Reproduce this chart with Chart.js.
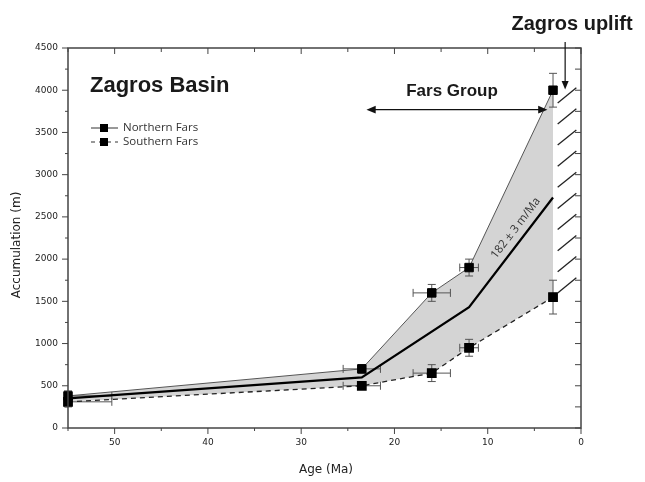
<!DOCTYPE html>
<html>
<head>
<meta charset="utf-8">
<script src="https://cdn.jsdelivr.net/npm/chart.js@4/dist/chart.umd.min.js"></script>
<style>
  body { margin: 0; background: #fff; }
  #wrap { width: 645px; height: 482px; }
</style>
</head>
<body>
<div id="wrap"><canvas id="myChart" width="645" height="482"></canvas></div>
<script>
// data
var ages = [55, 23.5, 16, 12, 3];
var northern = [380, 700, 1600, 1900, 4000];
var southern = [310, 500, 650, 950, 1550];
var ageErr = [4.7, 2, 2, 1, 0];
var northErr = [60, 50, 100, 100, 200];
var southErr = [60, 40, 100, 100, 200];
var meanAges = [55, 23.5, 12, 3];
var meanAcc = [350, 600, 1430, 2730];
var hatchBase = [1600, 1850, 2100, 2350, 2600, 2850, 3100, 3350, 3600, 3850];
var xTicks = [50, 40, 30, 20, 10, 0];
var yTicks = [0, 500, 1000, 1500, 2000, 2500, 3000, 3500, 4000, 4500];

function pts(xs, ys) {
    return xs.map(function (x, i) { return { x: x, y: ys[i] }; });
}

Chart.defaults.font.family = 'DejaVu Sans';
Chart.defaults.font.size = 9;
Chart.defaults.color = '#222';

function arrowHead(ctx, x, y, ang, len) {
    ctx.beginPath();
    ctx.moveTo(x, y);
    ctx.lineTo(x - len * Math.cos(ang - 0.4), y - len * Math.sin(ang - 0.4));
    ctx.lineTo(x - len * Math.cos(ang + 0.4), y - len * Math.sin(ang + 0.4));
    ctx.closePath();
    ctx.fill();
}

var extras = {
    id: 'extras',
    beforeDatasetsDraw: function (chart) {
        var ctx = chart.ctx, xs = chart.scales.x, ys = chart.scales.y;
        // error bars
        ctx.save();
        ctx.strokeStyle = '#555';
        ctx.lineWidth = 1;
        [[northern, northErr], [southern, southErr]].forEach(function (s) {
            ages.forEach(function (a, i) {
                var px = xs.getPixelForValue(a), py = ys.getPixelForValue(s[0][i]);
                var y1 = ys.getPixelForValue(s[0][i] - s[1][i]), y2 = ys.getPixelForValue(s[0][i] + s[1][i]);
                ctx.beginPath();
                ctx.moveTo(px, y1); ctx.lineTo(px, y2);
                ctx.moveTo(px - 4, y1); ctx.lineTo(px + 4, y1);
                ctx.moveTo(px - 4, y2); ctx.lineTo(px + 4, y2);
                if (ageErr[i] > 0) {
                    var x1 = xs.getPixelForValue(a - ageErr[i]), x2 = xs.getPixelForValue(a + ageErr[i]);
                    x2 = Math.max(x2, chart.chartArea.left);
                    ctx.moveTo(x1, py); ctx.lineTo(x2, py);
                    ctx.moveTo(x1, py - 4); ctx.lineTo(x1, py + 4);
                    ctx.moveTo(x2, py - 4); ctx.lineTo(x2, py + 4);
                }
                ctx.stroke();
            });
        });
        ctx.restore();
    },
    afterDraw: function (chart) {
        var ctx = chart.ctx, xs = chart.scales.x, ys = chart.scales.y, ca = chart.chartArea;
        ctx.save();
        // frame
        ctx.strokeStyle = '#444';
        ctx.lineWidth = 1.5;
        ctx.strokeRect(ca.left, ca.top, ca.right - ca.left, ca.bottom - ca.top);
        ctx.lineWidth = 1;
        for (var v = 0; v <= 55; v += 5) {
            var px = xs.getPixelForValue(v), major = v % 10 === 0;
            ctx.beginPath();
            ctx.moveTo(px, ca.bottom); ctx.lineTo(px, ca.bottom + (major ? 6 : 3));
            ctx.moveTo(px, ca.top); ctx.lineTo(px, ca.top + (major ? 6 : 4));
            ctx.stroke();
        }
        for (var w = 0; w <= 4500; w += 250) {
            var py = ys.getPixelForValue(w), maj = w % 500 === 0;
            ctx.beginPath();
            ctx.moveTo(ca.left, py); ctx.lineTo(ca.left - (maj ? 6 : 3), py);
            ctx.moveTo(ca.right, py); ctx.lineTo(ca.right - 6, py);
            ctx.stroke();
        }
        // hatching (Zagros uplift)
        ctx.strokeStyle = '#222';
        ctx.lineWidth = 1.3;
        hatchBase.forEach(function (h) {
            ctx.beginPath();
            ctx.moveTo(xs.getPixelForValue(2.5), ys.getPixelForValue(h));
            ctx.lineTo(xs.getPixelForValue(0.5), ys.getPixelForValue(h + 180));
            ctx.stroke();
        });
        // Fars Group arrow
        ctx.fillStyle = '#111';
        ctx.strokeStyle = '#111';
        ctx.lineWidth = 1.2;
        var ax1 = xs.getPixelForValue(23), ax2 = xs.getPixelForValue(3.6), ay = ys.getPixelForValue(3770);
        ctx.beginPath(); ctx.moveTo(ax1 + 4, ay); ctx.lineTo(ax2 - 4, ay); ctx.stroke();
        arrowHead(ctx, ax1, ay, Math.PI, 10);
        arrowHead(ctx, ax2, ay, 0, 10);
        // Zagros uplift arrow
        var ux = xs.getPixelForValue(1.7);
        ctx.beginPath(); ctx.moveTo(ux, 42); ctx.lineTo(ux, ys.getPixelForValue(4060)); ctx.stroke();
        arrowHead(ctx, ux, ys.getPixelForValue(4010), Math.PI / 2, 9);
        // texts
        ctx.fillStyle = '#1a1a1a';
        ctx.textBaseline = 'alphabetic';
        ctx.font = 'bold 20px "Liberation Sans"';
        ctx.textAlign = 'center';
        ctx.fillText('Zagros uplift', 572, 30);
        ctx.font = 'bold 17px "Liberation Sans"';
        ctx.fillText('Fars Group', 452, 96);
        ctx.font = 'bold 22px "Liberation Sans"';
        ctx.textAlign = 'left';
        ctx.fillText('Zagros Basin', 90, 92);
        // legend
        ctx.font = '11.5px "Open Sans"';
        ctx.textBaseline = 'middle';
        ctx.fillStyle = '#333';
        ctx.fillText('Northern Fars', 123, 128);
        ctx.fillText('Southern Fars', 123, 142);
        ctx.strokeStyle = '#333';
        ctx.lineWidth = 1;
        ctx.beginPath(); ctx.moveTo(91, 128); ctx.lineTo(118, 128); ctx.stroke();
        ctx.setLineDash([4, 4]);
        ctx.beginPath(); ctx.moveTo(91, 142); ctx.lineTo(118, 142); ctx.stroke();
        ctx.setLineDash([]);
        ctx.fillStyle = '#000';
        ctx.fillRect(100, 124, 8, 8);
        ctx.fillRect(100, 138, 8, 8);
        // rate label along the mean line
        var p1x = xs.getPixelForValue(meanAges[2]), p1y = ys.getPixelForValue(meanAcc[2]);
        var p2x = xs.getPixelForValue(meanAges[3]), p2y = ys.getPixelForValue(meanAcc[3]);
        var ang = Math.atan2(p2y - p1y, p2x - p1x);
        var f = 0.66, cx = p1x + f * (p2x - p1x), cy = p1y + f * (p2y - p1y);
        cx += 11 * Math.sin(ang); cy -= 11 * Math.cos(ang);
        ctx.translate(cx, cy);
        ctx.rotate(ang);
        ctx.textAlign = 'center';
        ctx.fillStyle = '#333';
        ctx.font = '11.5px "Open Sans"';
        ctx.fillText('182 \u00b1 3 m/Ma', 0, 0);
        ctx.setTransform(1, 0, 0, 1, 0, 0);
        ctx.restore();
        // axis titles
        ctx.save();
        ctx.fillStyle = '#222';
        ctx.font = '12px "DejaVu Sans"';
        ctx.textAlign = 'center';
        ctx.textBaseline = 'middle';
        ctx.fillText('Age (Ma)', 326, 470);
        ctx.translate(17, 245);
        ctx.rotate(-Math.PI / 2);
        ctx.fillText('Accumulation (m)', 0, 0);
        ctx.restore();
    }
};

var myChart = document.getElementById('myChart').getContext('2d');

var chart = new Chart(myChart, {
    type: 'line',
    data: {
        datasets: [{
            label: 'Northern Fars',
            data: pts(ages, northern),
            borderColor: '#555',
            borderWidth: 1,
            backgroundColor: '#d4d4d4',
            fill: '+1',
            pointStyle: 'rect',
            pointRadius: 6,
            pointBackgroundColor: '#000',
            pointBorderColor: '#000',
            clip: false
        },
        {
            label: 'Southern Fars',
            data: pts(ages, southern),
            borderColor: '#222',
            borderWidth: 1.3,
            borderDash: [5, 4],
            fill: false,
            pointStyle: 'rect',
            pointRadius: 6,
            pointBackgroundColor: '#000',
            pointBorderColor: '#000',
            clip: false
        },
        {
            label: 'mean',
            data: pts(meanAges, meanAcc),
            borderColor: '#000',
            borderWidth: 2.2,
            fill: false,
            pointRadius: 0
        }]
    },
    options: {
        responsive: false,
        animation: false,
        devicePixelRatio: 1,
        layout: { padding: { left: 0, top: 48, right: 64, bottom: 0 } },
        plugins: {
            legend: { display: false },
            tooltip: { enabled: false },
            filler: { drawTime: 'beforeDatasetsDraw' }
        },
        scales: {
            x: {
                type: 'linear',
                reverse: true,
                min: 0,
                max: 55,
                grid: { display: false, drawTicks: false },
                border: { display: false },
                ticks: { padding: 9, maxRotation: 0, autoSkip: false, callback: function (v) { return String(v); } },
                afterBuildTicks: function (s) { s.ticks = xTicks.map(function (v) { return { value: v }; }); },
                afterFit: function (s) { s.height = 54; }
            },
            y: {
                min: 0,
                max: 4500,
                grid: { display: false, drawTicks: false },
                border: { display: false },
                ticks: { padding: 10, autoSkip: false, callback: function (v) { return String(v); } },
                afterBuildTicks: function (s) { s.ticks = yTicks.map(function (v) { return { value: v }; }); },
                afterFit: function (s) { s.width = 68; }
            }
        }
    },
    plugins: [extras]
});
</script>
</body>
</html>
